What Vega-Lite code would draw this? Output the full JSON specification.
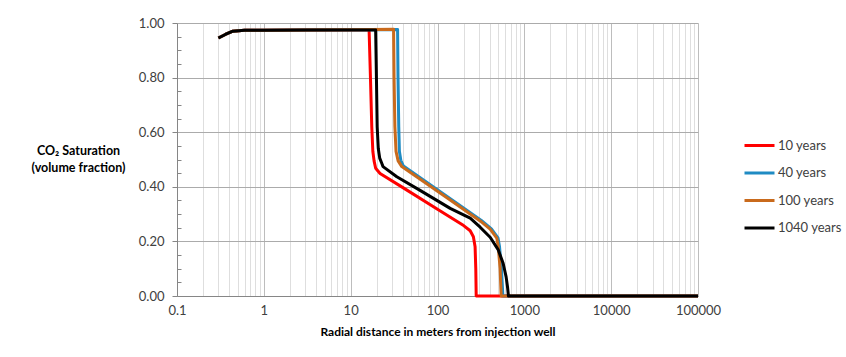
{
  "$schema": "https://vega.github.io/schema/vega-lite/v6.json",
  "width": 521,
  "height": 273,
  "autosize": {"type": "none"},
  "padding": {"left": 177, "top": 23, "right": 148, "bottom": 61},
  "background": "white",
  "config": {
    "view": {"stroke": null},
    "font": "Lato"
  },
  "data": {
    "values": [
      {"series": "10 years", "r": 0.3, "s": 0.945},
      {"series": "10 years", "r": 0.36, "s": 0.958},
      {"series": "10 years", "r": 0.44, "s": 0.970},
      {"series": "10 years", "r": 0.6, "s": 0.973},
      {"series": "10 years", "r": 1, "s": 0.973},
      {"series": "10 years", "r": 3, "s": 0.974},
      {"series": "10 years", "r": 10, "s": 0.975},
      {"series": "10 years", "r": 16.3, "s": 0.975},
      {"series": "10 years", "r": 16.9, "s": 0.80},
      {"series": "10 years", "r": 17.5, "s": 0.62},
      {"series": "10 years", "r": 18.0, "s": 0.53},
      {"series": "10 years", "r": 18.6, "s": 0.495},
      {"series": "10 years", "r": 19.4, "s": 0.468},
      {"series": "10 years", "r": 21.8, "s": 0.449},
      {"series": "10 years", "r": 40, "s": 0.397},
      {"series": "10 years", "r": 100, "s": 0.318},
      {"series": "10 years", "r": 200, "s": 0.258},
      {"series": "10 years", "r": 238, "s": 0.239},
      {"series": "10 years", "r": 259, "s": 0.217},
      {"series": "10 years", "r": 271, "s": 0.18},
      {"series": "10 years", "r": 276, "s": 0.10},
      {"series": "10 years", "r": 279, "s": 0},
      {"series": "10 years", "r": 1000, "s": 0},
      {"series": "10 years", "r": 100000, "s": 0},

      {"series": "40 years", "r": 0.3, "s": 0.945},
      {"series": "40 years", "r": 0.36, "s": 0.958},
      {"series": "40 years", "r": 0.44, "s": 0.970},
      {"series": "40 years", "r": 0.6, "s": 0.973},
      {"series": "40 years", "r": 1, "s": 0.973},
      {"series": "40 years", "r": 3, "s": 0.974},
      {"series": "40 years", "r": 10, "s": 0.975},
      {"series": "40 years", "r": 34.7, "s": 0.976},
      {"series": "40 years", "r": 35.1, "s": 0.80},
      {"series": "40 years", "r": 35.8, "s": 0.62},
      {"series": "40 years", "r": 36.4, "s": 0.53},
      {"series": "40 years", "r": 37.8, "s": 0.497},
      {"series": "40 years", "r": 40.5, "s": 0.476},
      {"series": "40 years", "r": 146, "s": 0.353},
      {"series": "40 years", "r": 320, "s": 0.277},
      {"series": "40 years", "r": 418, "s": 0.246},
      {"series": "40 years", "r": 497, "s": 0.213},
      {"series": "40 years", "r": 518, "s": 0.18},
      {"series": "40 years", "r": 545, "s": 0.10},
      {"series": "40 years", "r": 566, "s": 0},
      {"series": "40 years", "r": 100000, "s": 0},

      {"series": "100 years", "r": 0.3, "s": 0.945},
      {"series": "100 years", "r": 0.36, "s": 0.958},
      {"series": "100 years", "r": 0.44, "s": 0.970},
      {"series": "100 years", "r": 0.6, "s": 0.973},
      {"series": "100 years", "r": 1, "s": 0.973},
      {"series": "100 years", "r": 3, "s": 0.974},
      {"series": "100 years", "r": 10, "s": 0.975},
      {"series": "100 years", "r": 31.2, "s": 0.977},
      {"series": "100 years", "r": 31.6, "s": 0.80},
      {"series": "100 years", "r": 32.3, "s": 0.62},
      {"series": "100 years", "r": 33.3, "s": 0.53},
      {"series": "100 years", "r": 35.2, "s": 0.495},
      {"series": "100 years", "r": 38.8, "s": 0.474},
      {"series": "100 years", "r": 140, "s": 0.352},
      {"series": "100 years", "r": 310, "s": 0.275},
      {"series": "100 years", "r": 404, "s": 0.245},
      {"series": "100 years", "r": 482, "s": 0.212},
      {"series": "100 years", "r": 501, "s": 0.18},
      {"series": "100 years", "r": 526, "s": 0.10},
      {"series": "100 years", "r": 541, "s": 0},
      {"series": "100 years", "r": 100000, "s": 0},

      {"series": "1040 years", "r": 0.3, "s": 0.945},
      {"series": "1040 years", "r": 0.36, "s": 0.958},
      {"series": "1040 years", "r": 0.44, "s": 0.970},
      {"series": "1040 years", "r": 0.6, "s": 0.973},
      {"series": "1040 years", "r": 1, "s": 0.973},
      {"series": "1040 years", "r": 3, "s": 0.974},
      {"series": "1040 years", "r": 10, "s": 0.974},
      {"series": "1040 years", "r": 19.4, "s": 0.974},
      {"series": "1040 years", "r": 19.8, "s": 0.80},
      {"series": "1040 years", "r": 20.2, "s": 0.62},
      {"series": "1040 years", "r": 20.8, "s": 0.54},
      {"series": "1040 years", "r": 21.6, "s": 0.505},
      {"series": "1040 years", "r": 22.8, "s": 0.486},
      {"series": "1040 years", "r": 23.6, "s": 0.474},
      {"series": "1040 years", "r": 34, "s": 0.437},
      {"series": "1040 years", "r": 63, "s": 0.387},
      {"series": "1040 years", "r": 140, "s": 0.321},
      {"series": "1040 years", "r": 238, "s": 0.285},
      {"series": "1040 years", "r": 310, "s": 0.252},
      {"series": "1040 years", "r": 404, "s": 0.215},
      {"series": "1040 years", "r": 499, "s": 0.170},
      {"series": "1040 years", "r": 570, "s": 0.120},
      {"series": "1040 years", "r": 617, "s": 0.070},
      {"series": "1040 years", "r": 642, "s": 0.030},
      {"series": "1040 years", "r": 656, "s": 0},
      {"series": "1040 years", "r": 100000, "s": 0}
    ]
  },
  "encoding": {
    "x": {
      "field": "r",
      "type": "quantitative",
      "scale": {"type": "log", "domain": [0.1, 100000], "nice": false},
      "axis": {
        "title": "Radial distance in meters from injection well",
        "titleFont": "Lato",
        "titleFontSize": 12,
        "titleFontWeight": "bold",
        "titleColor": "#000000",
        "titlePadding": 9,
        "values": [0.1, 0.2, 0.3, 0.4, 0.5, 0.6, 0.7, 0.8, 0.9,
                   1, 2, 3, 4, 5, 6, 7, 8, 9,
                   10, 20, 30, 40, 50, 60, 70, 80, 90,
                   100, 200, 300, 400, 500, 600, 700, 800, 900,
                   1000, 2000, 3000, 4000, 5000, 6000, 7000, 8000, 9000,
                   10000, 20000, 30000, 40000, 50000, 60000, 70000, 80000, 90000,
                   100000],
        "format": "~g",
        "labelExpr": "indexof([0.1, 1, 10, 100, 1000, 10000, 100000], datum.value) >= 0 ? datum.label : ''",
        "labelOverlap": false,
        "labelFlush": false,
        "labelFont": "Lato",
        "labelFontSize": 13,
        "labelColor": "#404040",
        "labelPadding": 8,
        "ticks": false,
        "domainColor": "#868686",
        "domainWidth": 1,
        "grid": true,
        "gridColor": {
          "condition": {"test": "indexof([0.1, 1, 10, 100, 1000, 10000, 100000], datum.value) >= 0", "value": "#bdbdbd"},
          "value": "#dedede"
        },
        "gridWidth": 1
      }
    },
    "y": {
      "field": "s",
      "type": "quantitative",
      "scale": {"domain": [0, 1], "nice": false},
      "axis": {
        "title": ["CO₂ Saturation", "(volume fraction)"],
        "titleAngle": 0,
        "titleAlign": "center",
        "titleBaseline": "top",
        "titleX": -99,
        "titleY": 121,
        "titleLineHeight": 17,
        "titleFont": "Lato",
        "titleFontSize": 12.5,
        "titleFontWeight": "bold",
        "titleColor": "#000000",
        "values": [0, 0.05, 0.1, 0.15, 0.2, 0.25, 0.3, 0.35, 0.4, 0.45, 0.5,
                   0.55, 0.6, 0.65, 0.7, 0.75, 0.8, 0.85, 0.9, 0.95, 1],
        "labelExpr": "abs(datum.value * 5 - round(datum.value * 5)) < 1e-6 ? format(datum.value, '.2f') : ''",
        "labelOverlap": false,
        "labelFont": "Lato",
        "labelFontSize": 13,
        "labelColor": "#404040",
        "labelPadding": 8,
        "tickColor": "#868686",
        "tickSize": {
          "condition": {"test": "abs(datum.value * 5 - round(datum.value * 5)) < 1e-6", "value": 5},
          "value": -4
        },
        "domainColor": "#868686",
        "grid": true,
        "gridColor": "#ababab",
        "gridOpacity": {
          "condition": {"test": "abs(datum.value * 5 - round(datum.value * 5)) < 1e-6", "value": 1},
          "value": 0
        }
      }
    },
    "color": {
      "field": "series",
      "type": "nominal",
      "scale": {
        "domain": ["10 years", "40 years", "100 years", "1040 years"],
        "range": ["#ff0000", "#1f8bc3", "#c96a1c", "#000000"]
      },
      "legend": {
        "title": null,
        "orient": "none",
        "legendX": 566,
        "legendY": 106,
        "padding": 0,
        "symbolType": "stroke",
        "symbolSize": 900,
        "symbolStrokeWidth": 3,
        "labelFont": "Lato",
        "labelFontSize": 13,
        "labelColor": "#404040",
        "labelOffset": 2,
        "rowPadding": 3.5
      }
    }
  },
  "layer": [
    {"transform": [{"filter": "datum.series === '10 years'"}], "mark": {"type": "line", "strokeWidth": 3, "strokeJoin": "round"}},
    {"transform": [{"filter": "datum.series === '40 years'"}], "mark": {"type": "line", "strokeWidth": 3, "strokeJoin": "round"}},
    {"transform": [{"filter": "datum.series === '100 years'"}], "mark": {"type": "line", "strokeWidth": 3, "strokeJoin": "round"}},
    {"transform": [{"filter": "datum.series === '1040 years'"}], "mark": {"type": "line", "strokeWidth": 3, "strokeJoin": "round"}}
  ]
}
